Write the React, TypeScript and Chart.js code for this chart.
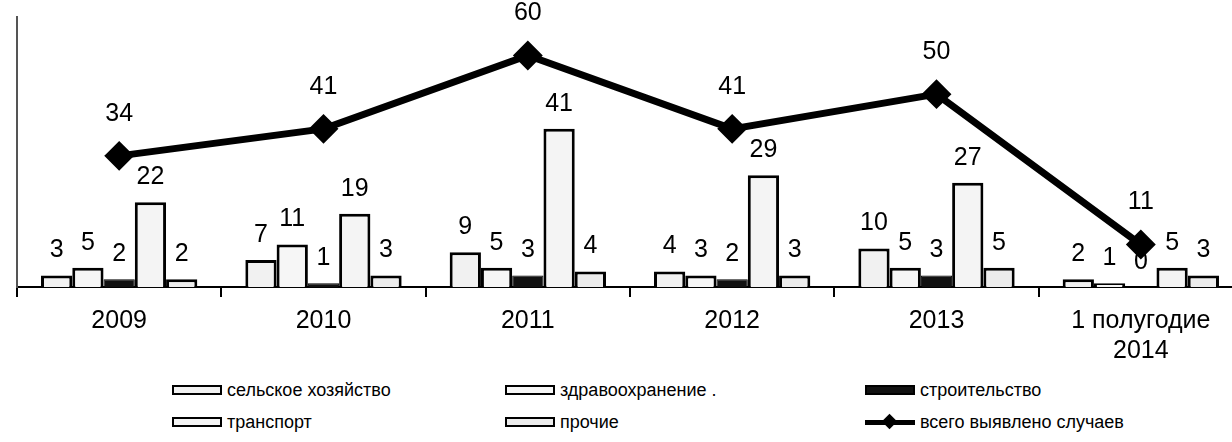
import React, { useEffect, useRef } from "react";
import { Chart, registerables } from "chart.js";

Chart.register(...registerables);

const categories: (string | string[])[] = ["2009", "2010", "2011", "2012", "2013", ["1 полугодие", "2014"]];
const agriculture = [3, 7, 9, 4, 10, 2];
const healthcare = [5, 11, 5, 3, 5, 1];
const construction = [2, 1, 3, 2, 3, 0];
const transport = [22, 19, 41, 29, 27, 5];
const other = [2, 3, 4, 3, 5, 3];
const total = [34, 41, 60, 41, 50, 11];

const seriesNames = [
  "сельское хозяйство",
  "здравоохранение .",
  "строительство",
  "транспорт",
  "прочие",
  "всего выявлено случаев",
];

const FONT = '"Liberation Sans", Arial, sans-serif';

const barFills = ["#f1f1f1", "#f6f6f6", "#111111", "#f4f4f4", "#ececec"];

const valueLabels = {
  id: "valueLabels",
  afterDatasetsDraw(chart: any) {
    const ctx = chart.ctx;
    ctx.save();
    ctx.fillStyle = "#000";
    ctx.font = `25px ${FONT}`;
    ctx.textAlign = "center";
    ctx.textBaseline = "middle";
    chart.data.datasets.forEach((ds: any, i: number) => {
      const meta = chart.getDatasetMeta(i);
      const off = ds.type === "line" ? 42 : 25;
      meta.data.forEach((el: any, j: number) => {
        ctx.fillText(String(ds.data[j]), el.x, el.y - off);
      });
    });
    ctx.restore();
  },
};

export default function App() {
  const ref = useRef<HTMLCanvasElement>(null);

  useEffect(() => {
    document.body.style.margin = "0";
    const barSets = [agriculture, healthcare, construction, transport, other].map((d, i) => ({
      type: "bar" as const,
      label: seriesNames[i],
      data: d,
      backgroundColor: barFills[i],
      borderColor: "#000",
      borderWidth: i === 2 ? 1 : 3,
      order: 1,
      categoryPercentage: 0.765,
      barPercentage: 1.0,
    }));
    const chart = new Chart(ref.current!, {
      type: "bar",
      data: {
        labels: categories as any,
        datasets: [
          ...barSets,
          {
            type: "line" as const,
            label: seriesNames[5],
            data: total,
            borderColor: "#000",
            borderWidth: 7,
            pointStyle: "rectRot",
            pointRadius: 10,
            pointBackgroundColor: "#000",
            pointBorderColor: "#000",
            order: 0,
          } as any,
        ],
      },
      options: {
        responsive: false,
        animation: false,
        devicePixelRatio: 1,
        layout: { padding: { left: 13, right: 16, top: 12, bottom: 0 } },
        plugins: { legend: { display: false }, tooltip: { enabled: false } },
        scales: {
          x: {
            grid: {
              display: true,
              drawOnChartArea: false,
              drawTicks: true,
              tickLength: 10,
              color: "#000",
              lineWidth: 2,
              offset: true,
            },
            border: { display: true, color: "#000", width: 2 },
            ticks: {
              color: "#000",
              font: { size: 25, family: FONT },
              padding: 9,
              maxRotation: 0,
              autoSkip: false,
            },
            afterFit: (s: any) => {
              s.height = 73;
            },
          },
          y: {
            min: 0,
            max: 70,
            grid: { display: false },
            ticks: { display: false },
            border: { display: true, color: "#555", width: 2 },
            afterFit: (s: any) => {
              s.width = 0;
            },
          },
        },
      } as any,
      plugins: [valueLabels],
    });
    return () => chart.destroy();
  }, []);

  const legendCols = [172, 505, 865];
  const legendRows = [390, 422];
  const boxStyle = (i: number): React.CSSProperties => ({
    position: "absolute",
    left: 0,
    top: -5,
    width: 50,
    height: 10,
    background: i === 2 ? "#111" : barFills[i],
    border: "2px solid #000",
    boxSizing: "border-box",
  });

  return (
    <div
      style={{
        position: "absolute",
        left: 0,
        top: 0,
        width: 1232,
        height: 442,
        overflow: "hidden",
        background: "#fff",
      }}
    >
      <canvas ref={ref} width={1260} height={360} style={{ display: "block" }} />
      {seriesNames.map((name, i) => {
        const col = i % 3;
        const row = Math.floor(i / 3);
        return (
          <div
            key={name}
            style={{
              position: "absolute",
              left: legendCols[col],
              top: legendRows[row],
              height: 0,
              fontFamily: FONT,
              fontSize: 18,
              color: "#000",
              whiteSpace: "nowrap",
            }}
          >
            {i < 5 ? (
              <span style={boxStyle(i)} />
            ) : (
              <span style={{ position: "absolute", left: 0, top: -10, width: 50, height: 20 }}>
                <span
                  style={{
                    position: "absolute",
                    left: 0,
                    top: 8,
                    width: 50,
                    height: 5,
                    background: "#000",
                  }}
                />
                <span
                  style={{
                    position: "absolute",
                    left: 19,
                    top: 4,
                    width: 11,
                    height: 11,
                    background: "#000",
                    transform: "rotate(45deg)",
                  }}
                />
              </span>
            )}
            <span
              style={{
                position: "absolute",
                left: 55,
                top: 0,
                transform: "translateY(-50%)",
                lineHeight: "20px",
              }}
            >
              {name}
            </span>
          </div>
        );
      })}
    </div>
  );
}
